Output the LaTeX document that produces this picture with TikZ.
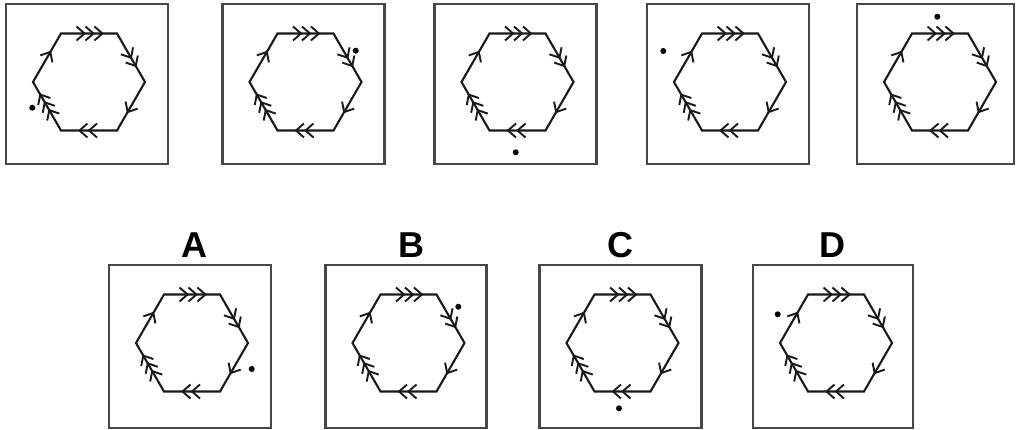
\documentclass[tikz,border=0pt]{standalone}
\usepackage{fontspec}
\setmainfont{Liberation Sans}
\usetikzlibrary{decorations.markings}

% one arrow chevron, tip at the mark position, pointing along the path
\newcommand\chevron{\draw[chev] (-8pt,7pt) -- (0pt,0pt) -- (-8pt,-7pt);}

\tikzset{
  frame/.style={draw=black!72, line width=2.1pt},
  hexline/.style={draw=black!90, line width=2.1pt, line join=miter},
  chev/.style={draw=black!90, line width=1.9pt, line join=miter},
  spot/.style={fill=black},
  choice/.style={font=\bfseries\fontsize{36}{36}\selectfont, inner sep=0pt},
  chevone/.style={postaction={decorate,decoration={markings,
      mark=at position 0.62 with {\chevron}}}},
  chevtwo/.style={postaction={decorate,decoration={markings,
      mark=at position 0.50 with {\chevron},
      mark=at position 0.67 with {\chevron}}}},
  chevthree/.style={postaction={decorate,decoration={markings,
      mark=at position 0.42 with {\chevron},
      mark=at position 0.58 with {\chevron},
      mark=at position 0.74 with {\chevron}}}},
}

% #1 name, #2,#3 hexagon centre, #4,#5 dot offset, #6 frame right, #7 frame bottom
\newcommand\hexpanel[7]{%
  \begin{scope}[shift={(#2,#3)}]
    \draw[frame] (-83,-78) rectangle (#6,#7);
    \coordinate (#1-tl) at (-28,-48.5);
    \coordinate (#1-tr) at (28,-48.5);
    \coordinate (#1-r)  at (56,0);
    \coordinate (#1-br) at (28,48.5);
    \coordinate (#1-bl) at (-28,48.5);
    \coordinate (#1-l)  at (-56,0);
    \draw[hexline] (#1-tl) -- (#1-tr) -- (#1-r) -- (#1-br) -- (#1-bl) -- (#1-l) -- cycle;
    \path[chevthree] (#1-tl) -- (#1-tr);
    \path[chevtwo]   (#1-tr) -- (#1-r);
    \path[chevone]   (#1-r)  -- (#1-br);
    \path[chevtwo]   (#1-br) -- (#1-bl);
    \path[chevthree] (#1-bl) -- (#1-l);
    \path[chevone]   (#1-l)  -- (#1-tl);
    \fill[spot] (#4,#5) circle (3pt);
  \end{scope}}

\begin{document}
\begin{tikzpicture}[x=1pt,y=-1pt]
  \useasboundingbox (0,0) rectangle (1016,430);

  % sequence
  \hexpanel{s1}{89}{82}{-56.7}{25.7}{79}{82}
  \hexpanel{s2}{305.5}{82}{50.2}{-31.3}{79}{82}
  \hexpanel{s3}{517.5}{82}{-1.8}{70.3}{79}{82}
  \hexpanel{s4}{730}{82}{-66.7}{-31}{79}{82}
  \hexpanel{s5}{940}{82}{-2.7}{-65.3}{74}{82}

  % answer choices
  \hexpanel{oa}{192}{343}{59.7}{26}{79}{85}
  \hexpanel{ob}{408.5}{343}{49.8}{-36.3}{78}{85}
  \hexpanel{oc}{622.5}{343}{-3.5}{65.3}{79}{85}
  \hexpanel{od}{836}{343}{-58.3}{-28.7}{77}{85}

  \node[choice] (labA) at (194,245) {A};
  \node[choice] (labB) at (411,245) {B};
  \node[choice] (labC) at (620,245) {C};
  \node[choice] (labD) at (832,245) {D};
\end{tikzpicture}
\end{document}
